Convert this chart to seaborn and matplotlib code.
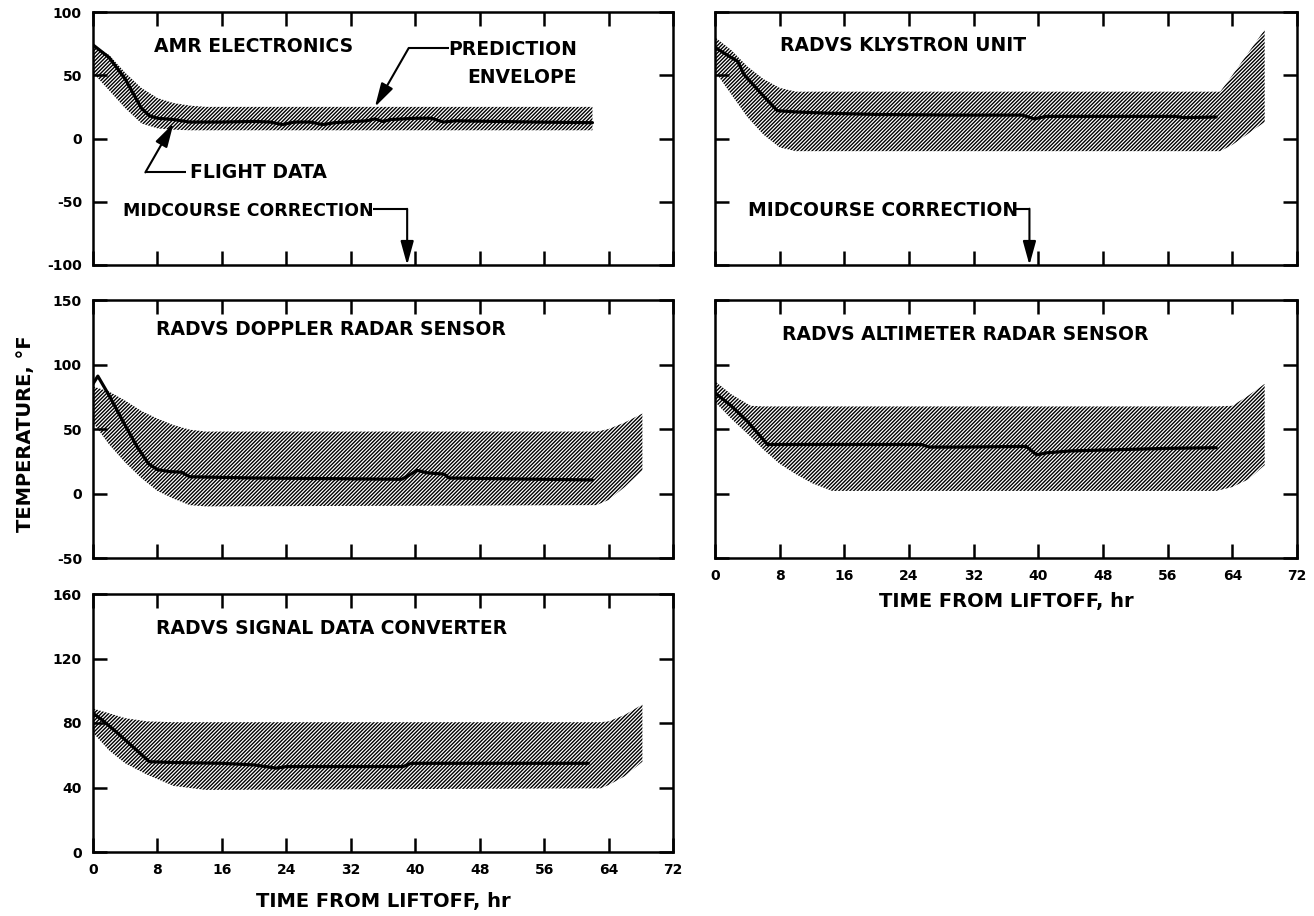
import matplotlib
matplotlib.use("Agg")
import matplotlib.pyplot as plt
import seaborn as sns

# ---------------- data (time in hours from liftoff, temperature in deg F) ----------------
HOUR_TICKS = [0, 8, 16, 24, 32, 40, 48, 56, 64, 72]

# AMR electronics
amr_env_t = [0, 2, 4, 6, 8, 10, 12, 14, 62]
amr_env_hi = [74, 66, 52, 40, 32, 28, 26, 25, 25]
amr_env_lo = [52, 38, 24, 12, 8, 7, 6.5, 6.5, 6.5]
amr_t = [0, 2, 4, 6, 7, 8, 10, 12, 16, 20, 22, 23.5, 25, 27, 28.5, 30, 34, 35, 36,
         37, 40, 42, 43.5, 45, 50, 55, 62]
amr_y = [74, 64, 47, 24, 18, 16, 15, 13, 13, 13.5, 13, 11, 13, 13, 11, 12.5, 14, 15.5, 13.5,
         15, 16, 16, 13, 14, 13.5, 13, 12.5]

# RADVS klystron unit
kly_env_t = [0, 2, 4, 6, 8, 10, 12, 62.5, 64, 66, 68]
kly_env_hi = [80, 70, 57, 47, 40, 37, 37, 37, 50, 68, 86]
kly_env_lo = [53, 35, 17, 3, -7, -10, -10, -10, -5, 4, 13]
kly_t = [0, 1.5, 2.8, 3.6, 5.5, 7.7, 10, 14, 20, 30, 38, 39.5, 41, 50, 57, 58, 62]
kly_y = [72, 66, 61, 50.5, 37, 22, 21, 20, 19, 18.5, 18.5, 15.5, 17.5, 17.5, 17.5, 16.5, 17]

# RADVS doppler radar sensor
dop_env_t = [0, 2, 4, 6, 8, 10, 12, 14, 62.5, 64, 66, 68.2]
dop_env_hi = [83, 79, 72, 64, 58, 53, 49.5, 48, 48, 50, 55, 62]
dop_env_lo = [55, 38, 24, 12, 2, -4, -9, -10, -9, -5, 5, 18]
dop_t = [0, 0.6, 2, 3.8, 5.5, 6.9, 8, 9.5, 11, 12, 20, 30, 38.3, 39.2, 40.2, 41.5, 43.6,
         44.2, 50, 62]
dop_y = [85, 91, 76, 55, 36, 23, 18.5, 17, 16.5, 13, 12, 11.5, 11, 14, 18, 16, 15,
         12, 11.5, 10.5]

# RADVS altimeter radar sensor
alt_env_t = [0, 2, 4.4, 6, 8, 10, 12, 14.5, 62, 64, 66, 68]
alt_env_hi = [87, 77, 68, 67.5, 67.5, 67.5, 67.5, 67.5, 67.5, 68, 76, 85]
alt_env_lo = [71, 58, 44, 34, 23, 15, 8, 2, 2, 5, 11, 22]
alt_t = [0, 2, 4, 6.5, 10, 16, 20, 25.5, 26.5, 30, 38.5, 39.8, 41, 44, 50, 56, 62]
alt_y = [78, 68, 56, 38, 38, 38, 38, 38, 36, 36, 36.5, 30, 31.5, 33, 34, 35, 35.5]

# RADVS signal data converter
sdc_env_t = [0, 2, 4, 6.7, 10, 14, 63, 64, 66, 68.2]
sdc_env_hi = [89, 86, 83, 81, 80.5, 80.5, 80.5, 81, 85, 91.5]
sdc_env_lo = [74, 63, 55, 48, 41, 38.5, 39.5, 41.5, 47, 56]
sdc_t = [0, 1.1, 3, 5, 7, 10, 16, 20, 22.8, 24, 30, 38.5, 39.5, 45, 55, 61.5]
sdc_y = [86, 82, 74, 65, 56, 55.5, 55, 54, 52, 53, 53, 53, 55, 55, 55, 55]

titles = ["AMR ELECTRONICS", "RADVS KLYSTRON UNIT", "RADVS DOPPLER RADAR SENSOR",
          "RADVS ALTIMETER RADAR SENSOR", "RADVS SIGNAL DATA CONVERTER"]

# ---------------- style ----------------
sns.set_style("ticks")
plt.rcParams.update({
    "font.family": ["DejaVu Sans"],
    "font.weight": "bold",
    "axes.labelweight": "bold",
    "axes.labelcolor": "black",
    "axes.linewidth": 1.8,
    "axes.edgecolor": "black",
    "axes.unicode_minus": False,
    "hatch.linewidth": 1.0,
    "hatch.color": "black",
    "text.color": "black",
    "xtick.color": "black",
    "ytick.color": "black",
})

W, H = 1314, 916
fig = plt.figure(figsize=(W / 100, H / 100), dpi=100)


def rect(x0, y0, x1, y1):
    return [x0 / W, 1 - y1 / H, (x1 - x0) / W, (y1 - y0) / H]


ax_amr = fig.add_axes(rect(93, 12, 673, 265))
ax_kly = fig.add_axes(rect(715, 12, 1297, 265))
ax_dop = fig.add_axes(rect(93, 300, 673, 558))
ax_alt = fig.add_axes(rect(715, 300, 1297, 558))
ax_sdc = fig.add_axes(rect(93, 594, 673, 852))

panels = [
    (ax_amr, amr_env_t, amr_env_lo, amr_env_hi, amr_t, amr_y, (-100, 100), 50, (7.6, 73)),
    (ax_kly, kly_env_t, kly_env_lo, kly_env_hi, kly_t, kly_y, (-100, 100), 50, (8.0, 73.5)),
    (ax_dop, dop_env_t, dop_env_lo, dop_env_hi, dop_t, dop_y, (-50, 150), 50, (7.85, 127)),
    (ax_alt, alt_env_t, alt_env_lo, alt_env_hi, alt_t, alt_y, (-50, 150), 50, (8.3, 123)),
    (ax_sdc, sdc_env_t, sdc_env_lo, sdc_env_hi, sdc_t, sdc_y, (0, 160), 40, (7.8, 138.5)),
]

for i, (ax, et, elo, ehi, ft, fy, ylim, ystep, tpos) in enumerate(panels):
    # prediction envelope (hatched band)
    ax.fill_between(et, elo, ehi, facecolor="none", edgecolor="black",
                    hatch="/////////", linewidth=0, zorder=1)
    # flight data
    sns.lineplot(x=ft, y=fy, ax=ax, color="black", linewidth=2.3, zorder=3)
    ax.set_xlim(0, 72)
    ax.set_ylim(*ylim)
    ax.set_xticks(HOUR_TICKS)
    ax.set_yticks(list(range(ylim[0], ylim[1] + 1, ystep)))
    ax.tick_params(direction="in", length=10, width=1.8, top=True, right=True,
                   labelsize=10, pad=8)
    for s in ax.spines.values():
        s.set_visible(True)
        s.set_linewidth(1.8)
    ax.set_xlabel("")
    ax.set_ylabel("")
    ax.text(tpos[0], tpos[1], titles[i], ha="left", va="center", fontsize=13.5)

for ax in (ax_amr, ax_kly, ax_dop):
    ax.tick_params(labelbottom=False)
for ax in (ax_kly, ax_alt):
    ax.tick_params(labelleft=False)

arrow_kw = dict(arrowstyle="-|>,head_length=1.45,head_width=0.4", mutation_scale=10,
                color="black", lw=1.5, shrinkA=0, shrinkB=0)
lead_kw = dict(color="black", lw=1.5, solid_capstyle="butt")

# AMR panel call-outs
ax_amr.text(60.1, 70, "PREDICTION", ha="right", va="center", fontsize=13.5)
ax_amr.text(60.1, 48.5, "ENVELOPE", ha="right", va="center", fontsize=13.5)
ax_amr.plot([44.2, 39.2], [71.6, 71.6], **lead_kw)
ax_amr.annotate("", xy=(35.0, 25), xytext=(39.2, 71.6), arrowprops=arrow_kw)

ax_amr.text(12, -26.8, "FLIGHT DATA", ha="left", va="center", fontsize=13.5)
ax_amr.plot([11.6, 6.5], [-26.8, -26.8], **lead_kw)
ax_amr.annotate("", xy=(10.0, 12), xytext=(6.5, -26.8), arrowprops=arrow_kw)

ax_amr.text(3.7, -57, "MIDCOURSE CORRECTION", ha="left", va="center", fontsize=12.5)
ax_amr.plot([34.8, 39], [-55.6, -55.6], **lead_kw)
ax_amr.annotate("", xy=(39, -100), xytext=(39, -55.6), arrowprops=arrow_kw)

ax_kly.text(4.1, -57, "MIDCOURSE CORRECTION", ha="left", va="center", fontsize=13.5)
ax_kly.plot([37.1, 38.9], [-55.5, -55.5], **lead_kw)
ax_kly.annotate("", xy=(38.9, -100), xytext=(38.9, -55.5), arrowprops=arrow_kw)

# axis titles
ax_alt.set_xlabel("TIME FROM LIFTOFF, hr", fontsize=14)
ax_alt.xaxis.set_label_coords(0.5, -0.13)
ax_sdc.set_xlabel("TIME FROM LIFTOFF, hr", fontsize=14)
ax_sdc.xaxis.set_label_coords(0.5, -0.155)
fig.text(25.5 / W, 1 - 434 / H, "TEMPERATURE, °F", rotation=90, ha="center",
         va="center", fontsize=14)

fig.savefig("out.png", dpi=100, facecolor="white")
